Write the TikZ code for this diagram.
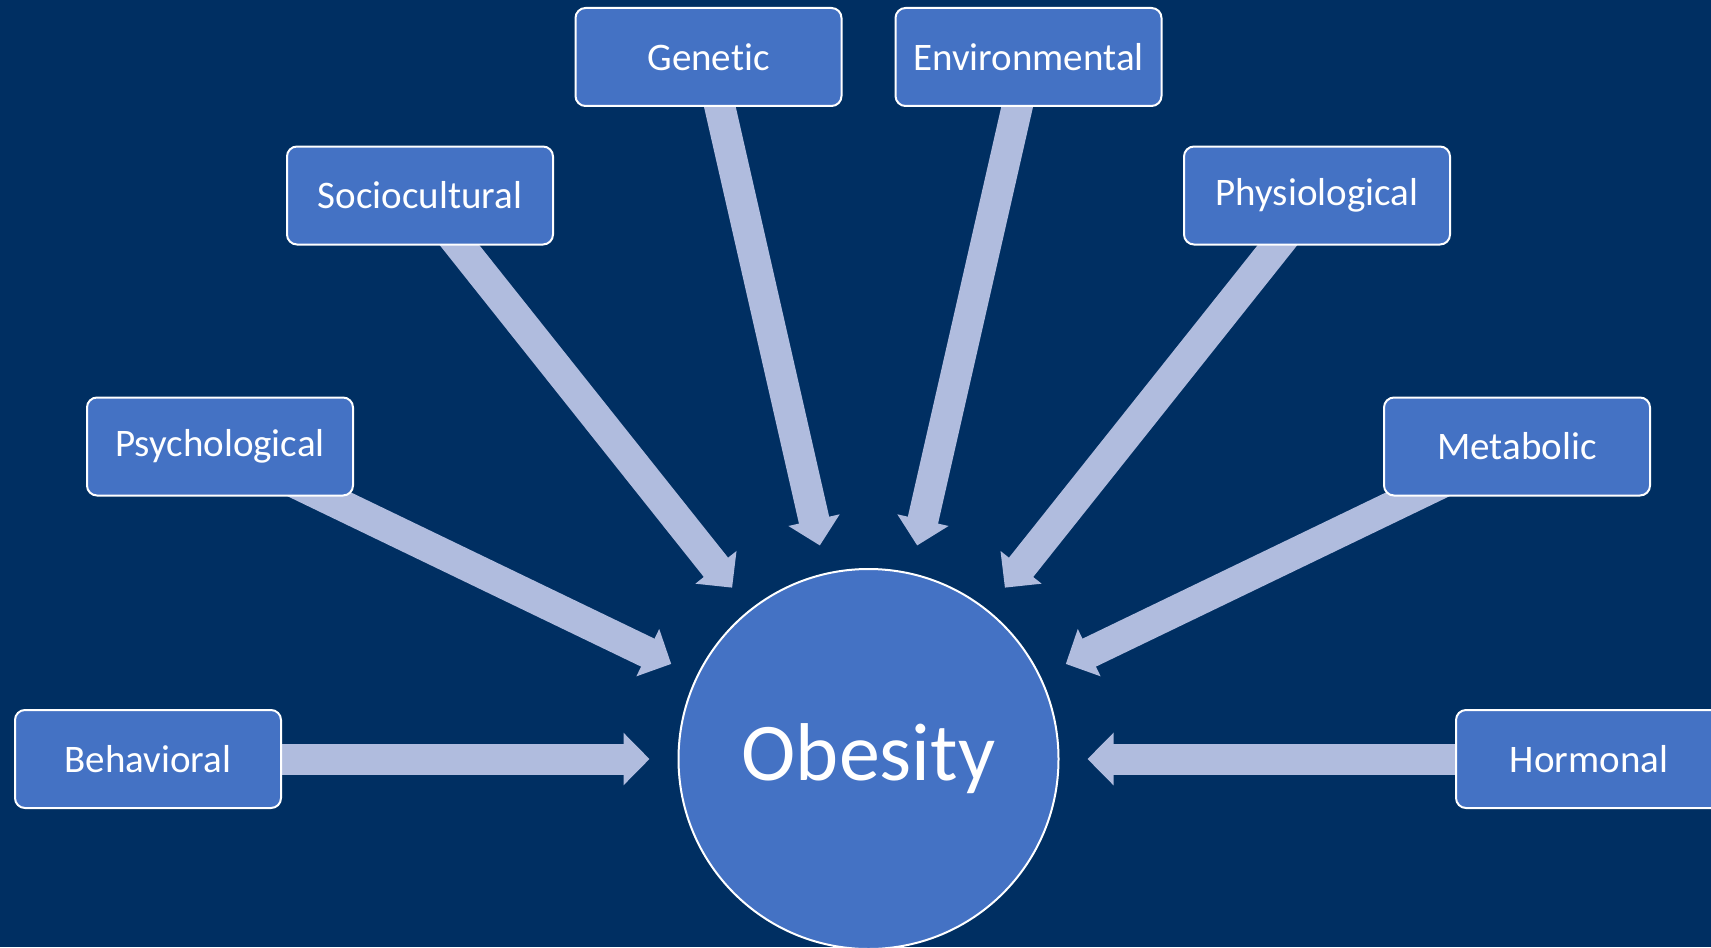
\documentclass[tikz,border=0pt]{standalone}
\usepackage{fontspec}
\setmainfont{Carlito}[Ligatures=NoCommon]
\usetikzlibrary{arrows.meta}
\definecolor{navy}{RGB}{0,47,98}
\definecolor{boxblue}{RGB}{68,114,196}
\definecolor{arrowblue}{RGB}{176,188,222}
\pgfdeclarelayer{backdrop}
\pgfdeclarelayer{arrowlayer}
\pgfsetlayers{backdrop,arrowlayer,main}

\begin{document}
\begin{tikzpicture}[x=0.5pt,y=-0.5pt,
    factor/.style={draw=white, line width=1pt, fill=boxblue, rounded corners=5pt,
        minimum width=133pt, minimum height=49pt, inner sep=0pt,
        text=white, font=\fontsize{19.5}{23}\selectfont},
    centre/.style={circle, draw=white, line width=1pt, fill=boxblue,
        minimum size=190pt, text=white, font=\fontsize{41}{49}\selectfont},
    push/.style={arrowblue, line width=15.5pt,
        -{Triangle[width=25.5pt,length=13pt]}, shorten >=14pt}]
    % Background
    \useasboundingbox (0,0) rectangle (1711,947);
    \begin{pgfonlayer}{backdrop}
        \fill[navy] (0,0) rectangle (1711,947);
    \end{pgfonlayer}

    % Centre
    \node[centre] (obesity) at (868.5,759) {Obesity};

    % Factors
    \node[factor] (behav) at (148,759) {Behavioral};
    \node[factor] (psych) at (220,446.5) {Psychological};
    \node[factor] (socio) at (420,195.5) {Sociocultural};
    \node[factor] (genet) at (708.5,57) {Genetic};
    \node[factor] (envir) at (1028.5,57) {Environmental};
    \node[factor] (physio) at (1317,195.5) {Physiological};
    \node[factor] (metab) at (1517,446.5) {Metabolic};
    \node[factor] (hormo) at (1589,759) {Hormonal};

    % Arrows, behind the boxes
    \begin{pgfonlayer}{arrowlayer}
        \draw[push] (behav.center) -- (obesity);
        \draw[push] (psych.center) -- (obesity);
        \draw[push] (socio.center) -- (obesity);
        \draw[push] (genet.center) -- (obesity);
        \draw[push] (envir.center) -- (obesity);
        \draw[push] (physio.center) -- (obesity);
        \draw[push] (metab.center) -- (obesity);
        \draw[push] (hormo.center) -- (obesity);
    \end{pgfonlayer}
\end{tikzpicture}
\end{document}
